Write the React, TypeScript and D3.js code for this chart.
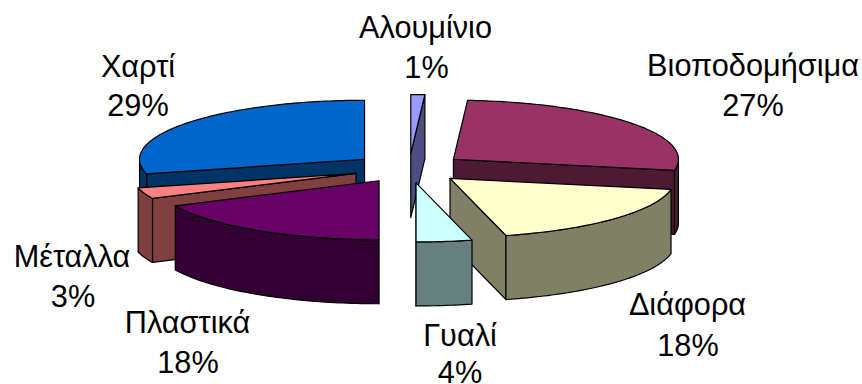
import React from "react";
import * as d3 from "d3";

// Waste composition by material, percent of total, clockwise from twelve o'clock.
const categories = ["Αλουμίνιο", "Βιοποδομήσιμα", "Διάφορα", "Γυαλί", "Πλαστικά", "Μέταλλα", "Χαρτί"];
const shares = [1, 27, 18, 4, 18, 3, 29];
const topColors = ["#9999FF", "#993366", "#FFFFCC", "#CCFFFF", "#660066", "#FF8080", "#0066CC"];
const wallColors = ["#4D4D80", "#4D1933", "#808066", "#668080", "#330033", "#804040", "#003366"];
// Slice indices in back-to-front painting order.
const paintOrder = [6, 5, 4, 0, 1, 2, 3];
// Horizontal centres and baselines of the two-line labels.
const labelX = [425.5, 753, 687.5, 460, 187.5, 72, 138];
const labelY = [37.5, 76, 315, 345.5, 333, 266.5, 76.5];
const percentX = [426.5, 753, 688, 460, 188, 73, 138];
const percentY = [78, 116, 356, 383, 372.5, 307, 116];

const WIDTH = 862;
const HEIGHT = 384;
const CENTER_X = 409;
const CENTER_Y = 168.3;
const DEPTH = 64;
const EXPLODE = 0.25;

const sx = d3.scaleLinear().domain([-1, 1]).range([-225, 225]);
const sy = d3.scaleLinear().domain([-1, 1]).range([-59, 59]);

type Pt = [number, number];
const project = (angle: number, r: number, ox: number, oy: number): Pt => [
  ox + sx(r * Math.sin(angle)),
  oy + sy(-r * Math.cos(angle)),
];
const line = d3.line<Pt>();
const closed = (pts: Pt[]) => (line(pts) ?? "") + "Z";
const arcPoints = (a0: number, a1: number, ox: number, oy: number, dy = 0): Pt[] => {
  const steps = Math.max(2, Math.ceil((a1 - a0) / 0.02));
  return d3.range(steps + 1).map((i) => {
    const [x, y] = project(a0 + ((a1 - a0) * i) / steps, 1, ox, oy);
    return [x, y + dy] as Pt;
  });
};
const wall = (a: Pt, b: Pt): Pt[] => [a, b, [b[0], b[1] + DEPTH], [a[0], a[1] + DEPTH]];

const slices = d3.pie<number>().sort(null).value((d) => d)(shares);

export default function App() {
  const HALF = Math.PI / 2;
  return (
    <svg
      width={WIDTH}
      height={HEIGHT}
      viewBox={`0 0 ${WIDTH} ${HEIGHT}`}
      style={{ position: "absolute", left: 0, top: 0, background: "#fff" }}
    >
      {paintOrder.map((i) => {
        const s = slices[i];
        const mid = (s.startAngle + s.endAngle) / 2;
        const [ox, oy] = project(mid, EXPLODE, CENTER_X, CENTER_Y);
        const apex: Pt = [ox, oy];
        const start = project(s.startAngle, 1, ox, oy);
        const end = project(s.endAngle, 1, ox, oy);
        const faces: Pt[][] = [];
        // A radial wall faces the viewer only on the near side of its half of the pie.
        if (s.endAngle <= Math.PI + 1e-6) faces.push(wall(apex, end));
        if (s.startAngle >= Math.PI - 1e-6) faces.push(wall(apex, start));
        // The rim is visible between three and nine o'clock.
        const a0 = Math.max(s.startAngle, HALF);
        const a1 = Math.min(s.endAngle, 3 * HALF);
        if (a1 > a0) {
          const upper = arcPoints(a0, a1, ox, oy);
          const lower = arcPoints(a0, a1, ox, oy, DEPTH).reverse();
          faces.push([...upper, ...lower]);
        }
        const top: Pt[] = [apex, ...arcPoints(s.startAngle, s.endAngle, ox, oy)];
        return (
          <g key={categories[i]} stroke="#000" strokeWidth={1.2} strokeLinejoin="round">
            {faces.map((f, k) => (
              <path key={k} d={closed(f)} fill={wallColors[i]} />
            ))}
            <path d={closed(top)} fill={topColors[i]} />
          </g>
        );
      })}
      <g fontFamily="'Liberation Sans', Arial, sans-serif" fontSize={30.7} fill="#000" textAnchor="middle">
        {categories.map((c, i) => (
          <g key={c}>
            <text x={labelX[i]} y={labelY[i]}>{c}</text>
            <text x={percentX[i]} y={percentY[i]}>{shares[i]}%</text>
          </g>
        ))}
      </g>
    </svg>
  );
}
